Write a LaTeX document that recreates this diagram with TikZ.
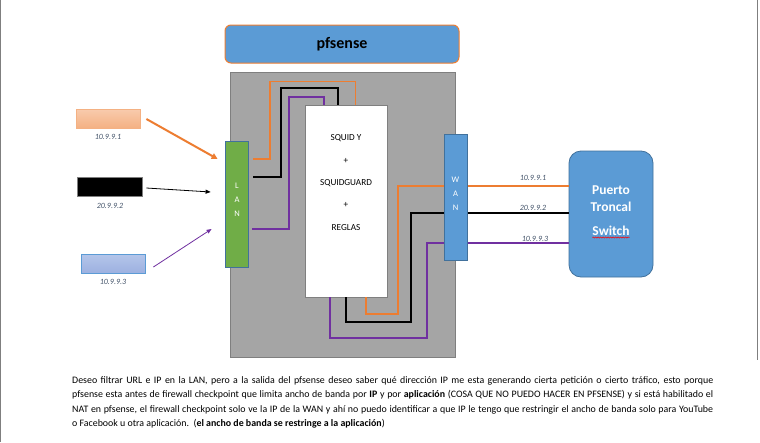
\documentclass[tikz,border=0pt]{standalone}
\usepackage{fontspec}
\setmainfont{Carlito}
\usetikzlibrary{arrows.meta,decorations.pathmorphing,calc}
\definecolor{oblue}{HTML}{5B9BD5}
\definecolor{oblueb}{HTML}{41719C}
\definecolor{oorange}{HTML}{ED7D31}
\definecolor{ogreen}{HTML}{70AD47}
\definecolor{ogray}{HTML}{A5A5A5}
\definecolor{ograyb}{HTML}{7F7F7F}
\definecolor{opurple}{HTML}{7030A0}
\definecolor{osalmon}{HTML}{F4B183}
\definecolor{osalmonl}{HTML}{F8CBAD}
\definecolor{operi}{HTML}{9DB1E0}
\definecolor{operil}{HTML}{B4C5EA}
\definecolor{olabel}{HTML}{44546A}
\tikzset{
  port/.style={draw=oblueb, line width=0.8pt, minimum width=23pt, minimum height=126pt, inner sep=0pt},
  wire/.style={line width=2pt},
  thinwire/.style={line width=1pt},
  iplabel/.style={font=\fontsize{8}{9}\selectfont\itshape, text=olabel, inner sep=0pt},
  pletters/.style={font=\fontsize{8.5}{14}\selectfont, text=white, align=center, inner sep=0pt},
}
\begin{document}
\begin{tikzpicture}[x=1pt,y=-1pt]
\useasboundingbox (0,0) rectangle (760,442);
\fill[white] (0,0) rectangle (760,442);
% page edges
\coordinate (pl1) at (0.6,0); \coordinate (pl2) at (0.6,442);
\coordinate (pr1) at (757,0); \coordinate (pr2) at (757,360);
\draw[ograyb, line width=0.8pt] (pl1) -- (pl2);
\draw[ograyb, line width=0.8pt] (pr1) -- (pr2);

% banner
\node[draw=oorange, fill=oblue, line width=1pt, rounded corners=6pt, minimum width=234pt, minimum height=38pt, inner sep=0pt,
  font=\fontsize{16}{18}\selectfont\bfseries] (banner) at (342,44) {pfsense};

% gray box
\node[draw=ograyb, fill=ogray, line width=0.8pt, minimum width=225pt, minimum height=285pt, inner sep=0pt] (pf) at (342.5,214.5) {};
% white box
\node[draw=ograyb, fill=white, line width=0.6pt, minimum width=82pt, minimum height=192pt, inner sep=0pt] (squid) at (346,201) {};
\node[font=\fontsize{9.2}{22.3}\selectfont, align=center, inner sep=0pt] (squidtxt) at (346,182.5) {SQUID Y\\+\\SQUIDGUARD\\+\\REGLAS};

% LAN
\node[port, fill=ogreen] (lan) at (236.5,204) {};
\node[pletters] (lantxt) at (237,200) {L\\A\\N};

% switch
\node[draw=oblueb, fill=oblue, line width=0.8pt, rounded corners=12pt, minimum width=84pt, minimum height=126pt, inner sep=0pt] (sw) at (611,214) {};
\node[font=\fontsize{13.5}{17}\selectfont\bfseries, text=white, align=center, inner sep=0pt] (swtxt) at (611,198.5) {Puerto\\Troncal};
\node[font=\fontsize{13.5}{15}\selectfont\bfseries, text=white, inner sep=0pt] (swtxt2) at (611,231) {Switch};
\draw[red, line width=0.5pt, decorate, decoration={snake, amplitude=0.6pt, segment length=2.5pt}]
  ([yshift=-1.5pt]swtxt2.south west) -- ([yshift=-1.5pt]swtxt2.south east);

% inner wires LAN -> squid
\draw[oorange, wire] ([xshift=5pt]lan.east |- 0,159) -- (270,159) -- (270,81);
\draw[oorange, thinwire] (270,81.5) -- (355,81.5) -- (355,0 |- squid.north);
\draw[black, wire] ([xshift=5pt]lan.east |- 0,177) -- (281,177) -- (281,88) -- (338,88) -- (338,0 |- squid.north);
\draw[opurple, wire] ([xshift=4pt]lan.east |- 0,229) -- (289,229) -- (289,97) -- (324,97) -- (324,0 |- squid.north);

% inner wires squid -> WAN -> switch
\draw[oorange, wire] (366,0 |- squid.south) -- (366,314) -- (398,314) -- (398,186) -- (sw.west |- 0,186);
\draw[black, wire] (346,0 |- squid.south) -- (346,322) -- (411,322) -- (411,213) -- (sw.west |- 0,213);
\draw[opurple, wire] (330,0 |- squid.south) -- (330,338) -- (427,338) -- (427,243) -- (sw.west |- 0,243);
% WAN on top of the wires
\node[port, fill=oblue] (wan) at (455.5,197) {};
\node[pletters] (wantxt) at (455.5,193.5) {W\\A\\N};

% labels on WAN side
\node[iplabel] (w1) at (533,178) {10.9.9.1};
\node[iplabel] (w2) at (533,208) {20.9.9.2};
\node[iplabel] (w3) at (535,239) {10.9.9.3};

% left hosts
\node[draw=osalmon, top color=osalmonl, bottom color=osalmon, line width=0.8pt, minimum width=64pt, minimum height=19pt, inner sep=0pt] (h1) at (108,118.5) {};
\node[iplabel] (l1) at (108,137) {10.9.9.1};
\node[draw=ograyb, fill=black, line width=0.6pt, minimum width=65pt, minimum height=19pt, inner sep=0pt] (h2) at (109.5,186.5) {};
\node[iplabel] (l2) at (110,206) {20.9.9.2};
\node[draw=oblue, top color=operil, bottom color=operi, line width=0.8pt, minimum width=64pt, minimum height=19pt, inner sep=0pt] (h3) at (113,263.5) {};
\node[iplabel] (l3) at (113,282) {10.9.9.3};

% arrows
\draw[oorange, line width=2pt, -{Triangle[length=6pt,width=6pt]}] ([xshift=6pt,yshift=-0.5pt]h1.east) -- ([xshift=-7pt]lan.west |- 0,159);
\draw[black, line width=0.8pt, -{Triangle[length=5pt,width=4pt]}] ([xshift=4pt,yshift=-1.5pt]h2.east) -- ([xshift=-14pt]lan.west |- 0,192);
\draw[opurple, line width=0.8pt, -{Triangle[length=5pt,width=4pt]}] ([xshift=8pt,yshift=-3.5pt]h3.east) -- ([xshift=-13pt]lan.west |- 0,229);

% paragraph
\node[anchor=north west, text width=641pt, align=justify, inner sep=0pt,
  font=\fontsize{9.9}{14.5}\selectfont] (para) at (72,376) {%
Deseo filtrar URL e IP en la LAN, pero a la salida del pfsense deseo saber qué dirección IP me esta generando cierta petición o cierto tráfico, esto porque\linebreak
pfsense esta antes de firewall checkpoint que limita ancho de banda por \textbf{IP} y por \textbf{aplicación} (COSA QUE NO PUEDO HACER EN PFSENSE) y si está habilitado el\linebreak
NAT en pfsense, el firewall checkpoint solo ve la IP de la WAN y ahí no puedo identificar a que IP le tengo que restringir el ancho de banda solo para YouTube\linebreak
o Facebook u otra aplicación.\ \ (\textbf{el ancho de banda se restringe a la aplicación})};
\end{tikzpicture}
\end{document}
